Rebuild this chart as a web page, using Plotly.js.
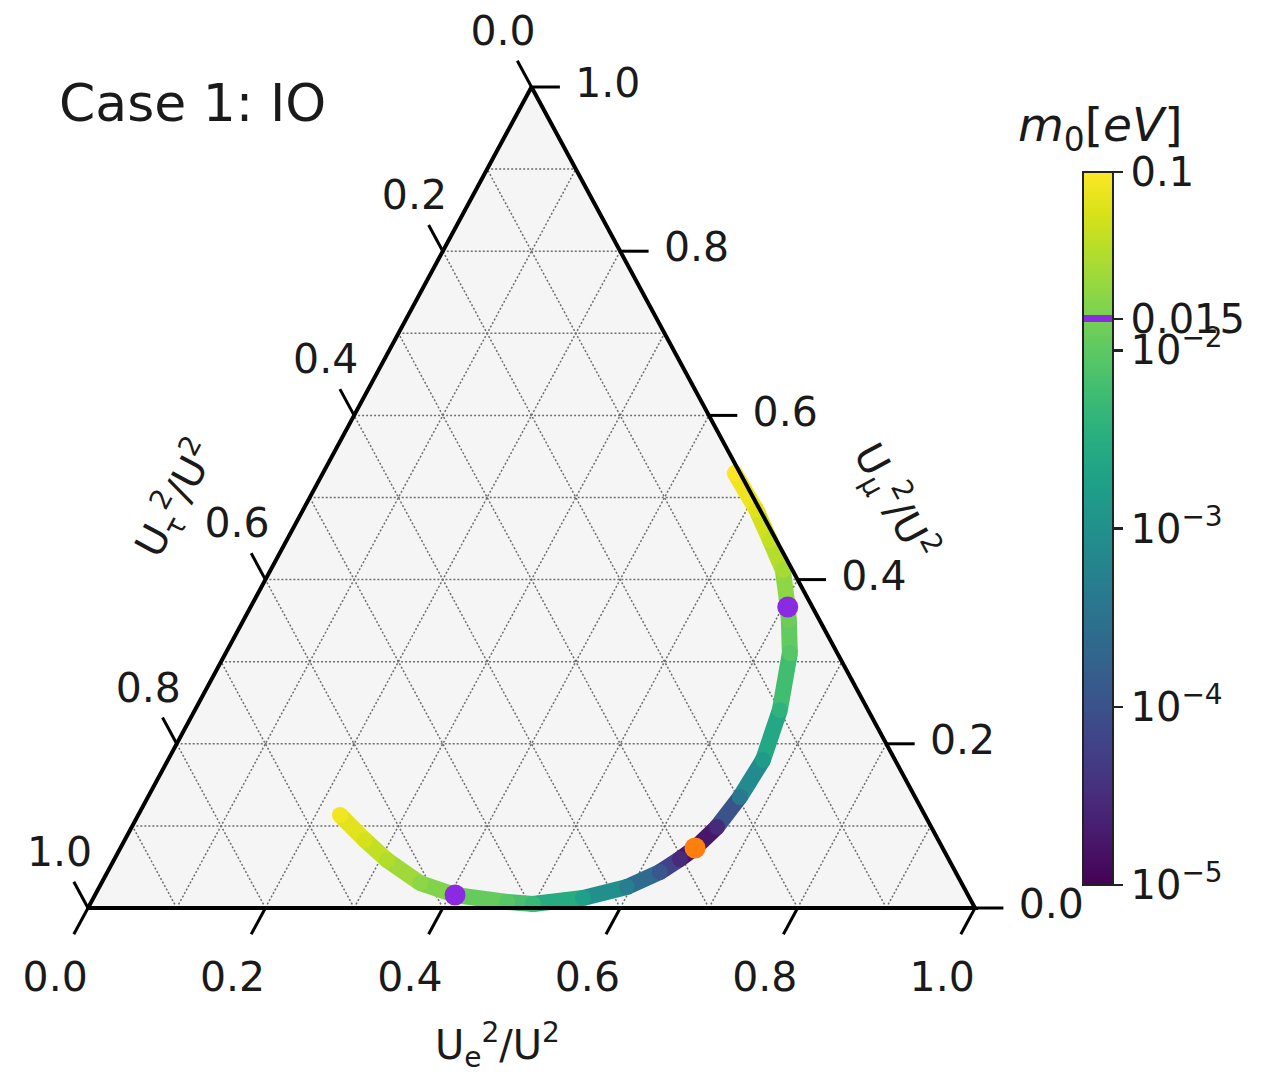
<!DOCTYPE html>
<html>
<head>
<meta charset="utf-8">
<script src="https://cdn.plot.ly/plotly-3.0.1.min.js"></script>
<style>body{margin:0;background:#fff}</style>
</head>
<body>
<div id="chart" style="width:1283px;height:1079px"></div>
<script>
// ---------------- data (ternary fractions) ----------------
// U_e^2/U^2, U_mu^2/U^2 along the curve (U_tau^2/U^2 = 1 - e - mu)
const curveE  = [0.2274, 0.2708, 0.3078, 0.3591, 0.4059, 0.4688, 0.4992, 0.5520, 0.5948, 0.6229, 0.6375, 0.6478,
                 0.6598, 0.6674, 0.6708, 0.6594, 0.6360, 0.6147, 0.6056, 0.5775, 0.5446, 0.5112, 0.4642];
const curveMu = [0.1133, 0.0828, 0.0585, 0.0305, 0.0158, 0.0073, 0.0049, 0.0122, 0.0256, 0.0438, 0.0597, 0.0731,
                 0.0987, 0.1352, 0.1803, 0.2412, 0.3106, 0.3508, 0.3666, 0.4117, 0.4482, 0.4848, 0.5298];
// lightest neutrino mass m0 [eV] along the curve
const curveM0 = [0.085, 0.055, 0.035, 0.021, 0.015, 0.009, 0.005, 0.0018, 0.0005, 0.00012, 0.00003, 0.00001,
                 0.00003, 0.0004, 0.0015, 0.004, 0.009, 0.013, 0.015, 0.03, 0.045, 0.065, 0.1];
// highlighted points
const purpleE  = [0.4059, 0.6056];
const purpleMu = [0.0158, 0.3666];
const orangeE  = [0.6478];
const orangeMu = [0.0731];
const markerM0 = 0.015;

const tickVals = [0, 0.2, 0.4, 0.6, 0.8, 1.0];
const tickText = ['0.0', '0.2', '0.4', '0.6', '0.8', '1.0'];
const gridVals = [0.1, 0.2, 0.3, 0.4, 0.5, 0.6, 0.7, 0.8, 0.9];

const cbTickVals = [1e-5, 1e-4, 1e-3, 1e-2, 0.015, 0.1];
const cbTickText = ['10<sup>\u22125</sup>', '10<sup>\u22124</sup>', '10<sup>\u22123</sup>', '10<sup>\u22122</sup>', '0.015', '0.1'];

const titleText = 'Case 1: IO';
const eLabel   = 'U<sub>e</sub><sup>2</sup>/U<sup>2</sup>';
const muLabel  = 'U<sub>\u03bc</sub><sup>2</sup>/U<sup>2</sup>';
const tauLabel = 'U<sub>\u03c4</sub><sup>2</sup>/U<sup>2</sup>';
const cbTitle  = '<i>m</i><sub>0</sub>[<i>eV</i>]';

// ---------------- styling / helpers ----------------
const FONT = 'DejaVu Sans, Arial, sans-serif';
const TXT = '#1a1a1a';
const PURPLE = '#8a2be2';
const ORANGE = '#ff7f0e';
const LOGMIN = -5, LOGMAX = -1;
const VIRIDIS = [
 [0, '#440154'], [0.06274509803921569, '#48186a'], [0.12549019607843137, '#472d7b'], [0.18823529411764706, '#424086'],
 [0.25098039215686274, '#3b528b'], [0.3137254901960784, '#33638d'], [0.3764705882352941, '#2c728e'], [0.4392156862745098, '#26828e'],
 [0.5019607843137255, '#21918c'], [0.5647058823529412, '#1fa088'], [0.6274509803921569, '#28ae80'], [0.6901960784313725, '#3fbc73'],
 [0.7529411764705882, '#5ec962'], [0.8156862745098039, '#84d44b'], [0.8784313725490196, '#addc30'], [0.9411764705882353, '#d8e219'],
 [1, '#fde725']];

function hex2rgb(h){ return [parseInt(h.substr(1,2),16), parseInt(h.substr(3,2),16), parseInt(h.substr(5,2),16)]; }
function viridisAt(t){
  t = Math.max(0, Math.min(1, t));
  for (let i = 0; i < VIRIDIS.length - 1; i++) {
    const a = VIRIDIS[i], b = VIRIDIS[i+1];
    if (t >= a[0] && t <= b[0]) {
      const f = (t - a[0]) / (b[0] - a[0]);
      const ca = hex2rgb(a[1]), cb = hex2rgb(b[1]);
      const c = ca.map((v, k) => Math.round(v + f * (cb[k] - v)));
      return 'rgb(' + c.join(',') + ')';
    }
  }
  return VIRIDIS[VIRIDIS.length-1][1];
}
const norm = v => (v - LOGMIN) / (LOGMAX - LOGMIN);

// ternary (e, mu) -> cartesian coordinates of the plot axes
const TX = (e, mu) => e + mu / 2;
const TY = (e, mu) => mu;

// colour scale with a marker band at m0 = 0.015
const fBand = norm(Math.log10(markerM0));
const hw = 0.005;
const banded = [];
VIRIDIS.forEach(s => { if (s[0] < fBand - hw) banded.push(s); });
banded.push([fBand - hw, viridisAt(fBand - hw)]);
banded.push([fBand - hw, PURPLE]);
banded.push([fBand + hw, PURPLE]);
banded.push([fBand + hw, viridisAt(fBand + hw)]);
VIRIDIS.forEach(s => { if (s[0] > fBand + hw) banded.push(s); });

const traces = [];
const LW = 16;

// triangle background
traces.push({
  x: [TX(0,0), TX(1,0), TX(0,1), TX(0,0)], y: [TY(0,0), TY(1,0), TY(0,1), TY(0,0)],
  mode: 'lines', fill: 'toself', fillcolor: '#f5f5f5', line: {width: 0}, hoverinfo: 'skip'
});

// grid lines
function gridTrace(fn){
  const x = [], y = [];
  gridVals.forEach(v => {
    const [p, q] = fn(v);
    x.push(TX(p[0], p[1]), TX(q[0], q[1]), null);
    y.push(TY(p[0], p[1]), TY(q[0], q[1]), null);
  });
  return {x, y, mode: 'lines', line: {color: '#6e6e6e', width: 1.5, dash: '2px,2px'}, hoverinfo: 'skip'};
}
traces.push(gridTrace(v => [[0, v], [1 - v, v]]));      // constant mu
traces.push(gridTrace(v => [[v, 0], [v, 1 - v]]));      // constant e
traces.push(gridTrace(v => [[1 - v, 0], [0, 1 - v]]));  // constant tau

// curve coloured by log10(m0)
const logM0 = curveM0.map(Math.log10);
for (let i = 0; i < curveE.length - 1; i++) {
  traces.push({
    x: [TX(curveE[i], curveMu[i]), TX(curveE[i+1], curveMu[i+1])],
    y: [TY(curveE[i], curveMu[i]), TY(curveE[i+1], curveMu[i+1])],
    mode: 'lines',
    line: {color: viridisAt(norm((logM0[i] + logM0[i+1]) / 2)), width: LW},
    hoverinfo: 'skip'
  });
}
traces.push({
  x: curveE.map((e, i) => TX(e, curveMu[i])), y: curveE.map((e, i) => TY(e, curveMu[i])),
  mode: 'markers',
  marker: {
    size: LW, color: logM0, colorscale: banded, cmin: LOGMIN, cmax: LOGMAX, showscale: true,
    line: {width: 0},
    colorbar: {
      x: 1083/1283, xanchor: 'left', xpad: 0, y: 1 - 172/1079, yanchor: 'top', ypad: 0,
      thickness: 30, thicknessmode: 'pixels', len: 713, lenmode: 'pixels',
      outlinewidth: 2, outlinecolor: '#222',
      tickmode: 'array', tickvals: cbTickVals.map(Math.log10), ticktext: cbTickText,
      ticks: 'outside', ticklen: 9, tickwidth: 2.5, tickcolor: '#222',
      tickfont: {family: FONT, size: 40, color: TXT}
    }
  },
  hoverinfo: 'skip'
});

// triangle edges
traces.push({
  x: [TX(0,0), TX(1,0), TX(0,1), TX(0,0)], y: [TY(0,0), TY(1,0), TY(0,1), TY(0,0)],
  mode: 'lines', line: {color: '#000', width: 4}, hoverinfo: 'skip'
});

// ticks
const TL = 0.032;
function tickTrace(fn){
  const x = [], y = [];
  tickVals.forEach(v => {
    const [p, q] = fn(v);
    x.push(TX(p[0], p[1]), TX(q[0], q[1]), null);
    y.push(TY(p[0], p[1]), TY(q[0], q[1]), null);
  });
  return {x, y, mode: 'lines', line: {color: '#000', width: 3}, hoverinfo: 'skip'};
}
traces.push(tickTrace(v => [[v, 0], [v, -TL]]));                       // e axis (bottom)
traces.push(tickTrace(v => [[1 - v, v], [1 - v + TL, v]]));            // mu axis (right)
traces.push(tickTrace(v => [[0, 1 - v], [-TL, 1 - v + TL]]));          // tau axis (left)

// highlighted points
traces.push({
  x: purpleE.map((e, i) => TX(e, purpleMu[i])), y: purpleE.map((e, i) => TY(e, purpleMu[i])),
  mode: 'markers', marker: {size: 21, color: PURPLE, line: {width: 0}}, hoverinfo: 'skip'
});
traces.push({
  x: orangeE.map((e, i) => TX(e, orangeMu[i])), y: orangeE.map((e, i) => TY(e, orangeMu[i])),
  mode: 'markers', marker: {size: 21, color: ORANGE, line: {width: 0}}, hoverinfo: 'skip'
});

// tick labels
function labelTrace(fn){
  const x = [], y = [];
  tickVals.forEach(v => { const p = fn(v); x.push(TX(p[0], p[1])); y.push(TY(p[0], p[1])); });
  return {x, y, mode: 'text', text: tickText, textposition: 'middle center',
          textfont: {family: FONT, size: 41, color: TXT}, hoverinfo: 'skip'};
}
traces.push(labelTrace(v => [v + 0.007, -0.088]));          // bottom
traces.push(labelTrace(v => [1 - v + 0.086, v]));           // right
traces.push(labelTrace(v => [-0.064, 1 - v + 0.064]));      // left

// axis titles positions (ternary e, mu)
const eLabPos = [0.5456, -0.1669];
const muLabPos = [0.6626, 0.4945];
const tauLabPos = [-0.1505, 0.4994];
const edgeAngle = Math.atan2(821, 443) * 180 / Math.PI;

const annFont = {family: FONT, size: 40, color: TXT};
const layout = {
  width: 1283, height: 1079,
  margin: {l: 0, r: 0, t: 0, b: 0, pad: 0, autoexpand: false},
  paper_bgcolor: '#fff', plot_bgcolor: '#fff',
  showlegend: false, hovermode: false,
  xaxis: {range: [-0.09921, 1.34723], visible: false, fixedrange: true},
  yaxis: {range: [-0.20828, 1.10597], visible: false, fixedrange: true},
  annotations: [
    {text: eLabel, x: TX(eLabPos[0], eLabPos[1]), y: TY(eLabPos[0], eLabPos[1]), xref: 'x', yref: 'y',
     showarrow: false, font: annFont, xanchor: 'center', yanchor: 'middle'},
    {text: muLabel, x: TX(muLabPos[0], muLabPos[1]), y: TY(muLabPos[0], muLabPos[1]), xref: 'x', yref: 'y',
     showarrow: false, font: annFont, textangle: edgeAngle, xanchor: 'center', yanchor: 'middle'},
    {text: tauLabel, x: TX(tauLabPos[0], tauLabPos[1]), y: TY(tauLabPos[0], tauLabPos[1]), xref: 'x', yref: 'y',
     showarrow: false, font: annFont, textangle: -edgeAngle, xanchor: 'center', yanchor: 'middle'},
    {text: titleText, x: 57/1283, y: 1 - 103/1079, xref: 'paper', yref: 'paper', xanchor: 'left', yanchor: 'middle',
     showarrow: false, font: {family: FONT, size: 52, color: TXT}},
    {text: cbTitle, x: 1100/1283, y: 1 - 128/1079, xref: 'paper', yref: 'paper', xanchor: 'center', yanchor: 'middle',
     showarrow: false, font: {family: FONT, size: 47, color: TXT}}
  ]
};

Plotly.newPlot('chart', traces, layout, {staticPlot: true, displayModeBar: false});
</script>
</body>
</html>
